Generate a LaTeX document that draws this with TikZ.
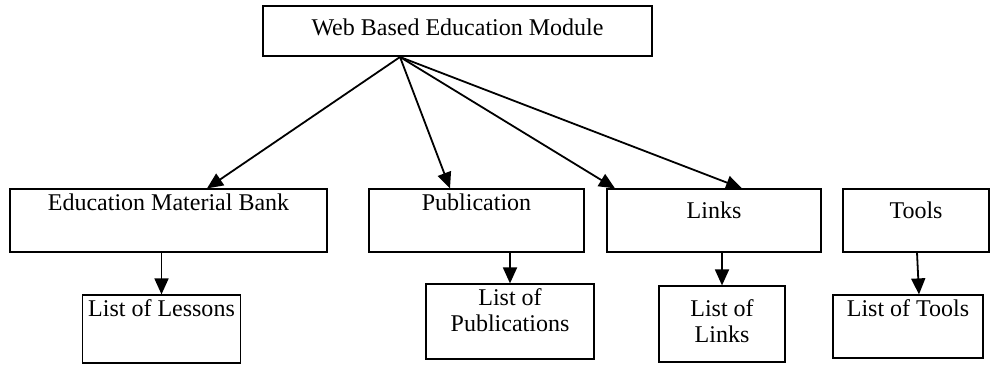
\documentclass[tikz,border=0pt]{standalone}
\usepackage{fontspec}
\setmainfont{Liberation Serif}
\usetikzlibrary{arrows.meta}

\tikzset{
    box/.style={draw, line width=0.6pt, inner xsep=3pt, inner ysep=2pt, align=center, font=\fontsize{12}{13}\selectfont},
    arr/.style={line width=0.9pt, -{Triangle[length=8pt,width=7pt]}},
}

\begin{document}
\begin{tikzpicture}[x=0.5pt, y=-0.5pt]
    \useasboundingbox (0,0) rectangle (990,364);
    \node [box, minimum width=194.5pt, text height=12.5pt, text depth=8.5pt] (wbem) at (457.5,31) {Web Based Education Module};
    \node [box, minimum width=158.5pt, text height=8.5pt, text depth=19pt] (emb) at (168.5,220.5) {Education Material Bank};
    \node [box, minimum width=107.5pt, text height=8.5pt, text depth=19pt] (pub) at (476.5,220.5) {Publication};
    \node [box, minimum width=107pt, text height=12.5pt, text depth=15pt] (links) at (714,220.5) {Links};
    \node [box, minimum width=73pt, text height=12.5pt, text depth=15pt] (tools) at (916,220.5) {Tools};
    \node [box, minimum width=75.5pt, text height=8.5pt, text depth=21.5pt] (lessons) at (161.5,329) {List of Lessons};
    \node [box, minimum width=84pt, text height=21.5pt, text depth=12pt] (lpub) at (510,321.5) {List of\\Publications};
    \node [box, minimum width=63pt, text height=26pt, text depth=8pt] (llinks) at (722,324) {List of\\Links};
    \node [box, minimum width=75pt, text height=8.5pt, text depth=19pt] (ltools) at (908,326.5) {List of Tools};
    \coordinate (fork) at (400,57);
    \draw [arr] (fork) -- ([xshift=19.25pt]emb.north);
    \draw [arr] (fork) -- ([xshift=-13.25pt]pub.north);
    \draw [arr] (fork) -- ([xshift=-49.5pt]links.north);
    \draw [arr] (fork) -- ([xshift=14pt]links.north);
    \draw [arr] (emb.south -| lessons.north) -- (lessons.north);
    \draw [arr] (pub.south -| lpub.north) -- (lpub.north);
    \draw [arr] (links.south -| llinks.north) -- (llinks.north);
    \draw [arr] ([xshift=0.5pt]tools.south) -- ([xshift=5.5pt]ltools.north);
\end{tikzpicture}
\end{document}
